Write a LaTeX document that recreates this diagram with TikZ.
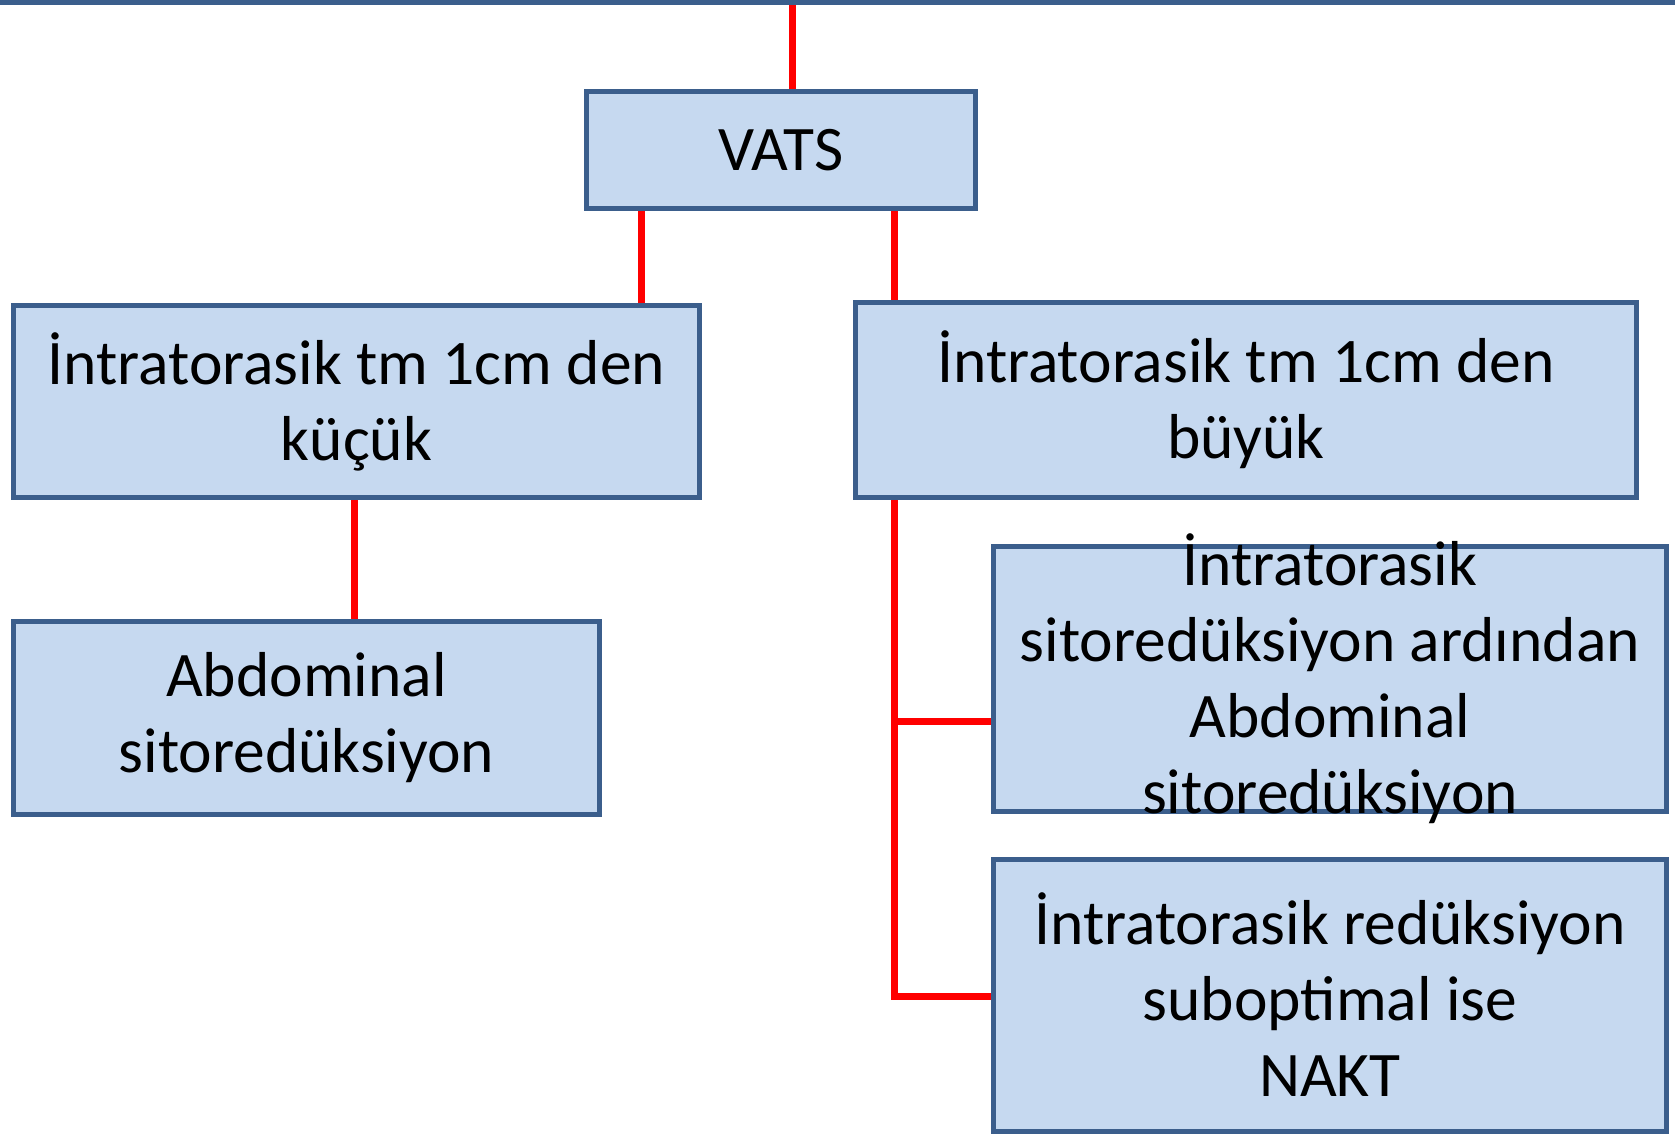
\documentclass[tikz,border=0pt]{standalone}
\usepackage{fontspec}
\setmainfont{Carlito}
\usetikzlibrary{backgrounds}
\definecolor{boxfill}{HTML}{C6D9F0}
\definecolor{boxline}{HTML}{3B5E8C}
\tikzset{box/.style={draw=boxline, fill=boxfill, line width=5pt, inner sep=0pt, align=center, font=\fontsize{63.5}{76}\selectfont},
%text that is set over a box of fixed size
boxtext/.style={inner sep=0pt, align=center, font=\fontsize{63.5}{76}\selectfont},
link/.style={draw=red, line width=7pt}}

\begin{document}
\begin{tikzpicture}[x=1pt, y=-1pt]
    \useasboundingbox (0,0) rectangle (1680,1133);
    \clip (0,0) rectangle (1680,1133);
    \node[box, minimum width=1700, minimum height=200] (top) at (822,-98) {};
    \node[box, minimum width=389, minimum height=117] (vats) at (781,150) {VATS};
    \node[box, minimum width=686, minimum height=192] (L1) at (356.5,401.5) {İntratorasik tm 1cm den\\küçük};
    \node[box, minimum width=781, minimum height=195] (R1) at (1246,400) {İntratorasik tm 1cm den\\büyük};
    \node[box, minimum width=586, minimum height=193] (L2) at (306.5,718) {Abdominal\\sitoredüksiyon};
    \node[box, minimum width=673, minimum height=265,
          label={[boxtext]center:İntratorasik\\sitoredüksiyon ardından\\Abdominal\\sitoredüksiyon}] (R2) at (1330,679) {};
    \node[box, minimum width=673, minimum height=272] (R3) at (1330,995) {İntratorasik redüksiyon\\suboptimal ise\\NAKT};
    % x positions of the red lines
    \coordinate (xt) at (792,0);
    \coordinate (xa) at (641,0);
    \coordinate (xb) at (894,0);
    \coordinate (xc) at (354,0);
    \coordinate (j1) at (894,721);
    \coordinate (j2) at (894,996);
    \begin{scope}[on background layer]
    \draw[link] (top.south -| xt) -- (vats.north -| xt);
    \draw[link] (vats.south -| xa) -- (L1.north -| xa);
    \draw[link] (vats.south -| xb) -- (R1.north -| xb);
    \draw[link] (L1.south -| xc) -- (L2.north -| xc);
    \draw[link] (R1.south -| xb) -- (j2) -- (R3.west |- j2);
    \draw[link] (j1) -- (R2.west |- j1);
    \end{scope}
\end{tikzpicture}
\end{document}
